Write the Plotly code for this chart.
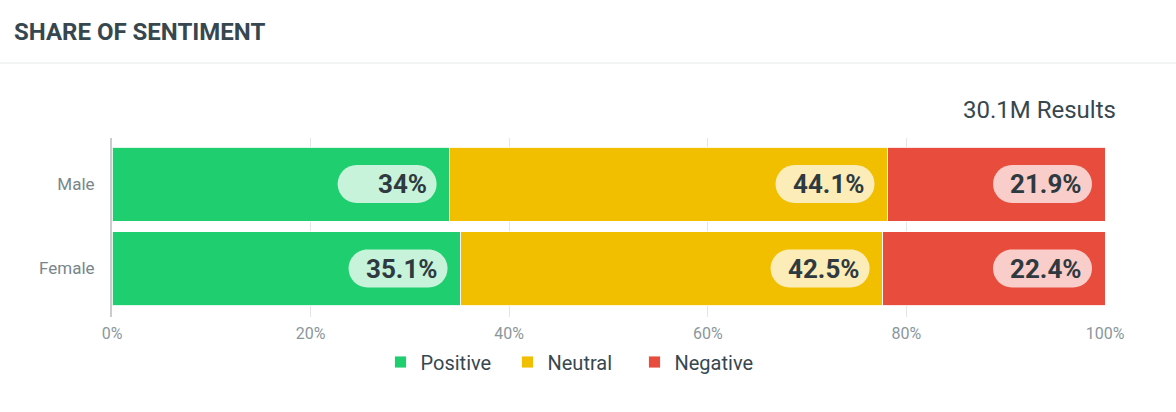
import plotly.graph_objects as go

categories = ["Male", "Female"]
positive = [34.0, 35.1]
neutral = [44.1, 42.5]
negative = [21.9, 22.4]
x_ticks = [0, 20, 40, 60, 80, 100]
x_tick_labels = ["0%", "20%", "40%", "60%", "80%", "100%"]
title_text = "SHARE OF SENTIMENT"
results_text = "30.1M Results"

series = [
    ("Positive", positive, "#1FCE6E", "rgba(255,255,255,0.75)"),
    ("Neutral", neutral, "#F2BF00", "rgba(255,255,255,0.72)"),
    ("Negative", negative, "#E84C3D", "rgba(255,255,255,0.72)"),
]

W, H = 1176, 412
ML, MR, MT, MB = 112, 71, 138, 95
PW, PH = W - ML - MR, H - MT - MB

fig = go.Figure()
for name, vals, color, _ in series:
    fig.add_trace(go.Bar(
        name=name, y=categories, x=vals, orientation="h",
        marker=dict(color=color, line=dict(color="rgba(255,255,255,0.85)", width=1)),
        hoverinfo="skip",
    ))

def pill_path(x0, x1, y0, y1):
    r = (y1 - y0) / 2.0
    k = 0.5523 * r
    cy = (y0 + y1) / 2.0
    p = f"M{x0 + r},{y0} L{x1 - r},{y0} "
    p += f"C{x1 - r + k},{y0} {x1},{cy - k} {x1},{cy} "
    p += f"C{x1},{cy + k} {x1 - r + k},{y1} {x1 - r},{y1} "
    p += f"L{x0 + r},{y1} "
    p += f"C{x0 + r - k},{y1} {x0},{cy + k} {x0},{cy} "
    p += f"C{x0},{cy - k} {x0 + r - k},{y0} {x0 + r},{y0} Z"
    return p

shapes = []
annotations = []
for ci, cat in enumerate(categories):
    cum = 0.0
    for name, vals, color, pill in series:
        cum += vals[ci]
        shapes.append(dict(
            type="path", xref="x", yref="y",
            xsizemode="pixel", ysizemode="pixel",
            xanchor=cum, yanchor=ci,
            path=pill_path(-112, -13, -19, 19),
            fillcolor=pill, line=dict(width=0), layer="above",
        ))
        label = f"{vals[ci]:g}%"
        annotations.append(dict(
            x=cum, y=cat, xref="x", yref="y", text=f"<b>{label}</b>",
            showarrow=False, xanchor="right", yanchor="middle", xshift=-21,
            font=dict(family="Roboto", size=26, color="#2E3A40"),
        ))

# header separator
shapes.append(dict(type="line", xref="paper", yref="paper",
                   x0=-ML / PW, x1=(W - ML) / PW,
                   y0=(H - MB - 63) / PH, y1=(H - MB - 63) / PH,
                   line=dict(color="#E6E8E9", width=1), layer="below"))

annotations.append(dict(
    x=-(ML - 12) / PW, y=(H - MB - 32) / PH,
    xref="paper", yref="paper", xanchor="left", yanchor="middle",
    text=f"<b>{title_text}</b>", showarrow=False,
    font=dict(family="Roboto", size=24, color="#37474F"),
))
annotations.append(dict(
    x=(1118 - ML) / PW, y=(H - MB - 110) / PH,
    xref="paper", yref="paper", xanchor="right", yanchor="middle",
    text=results_text, showarrow=False,
    font=dict(family="Roboto", size=24, color="#37474F"),
))

fig.update_layout(
    width=W, height=H,
    margin=dict(l=ML, r=MR, t=MT, b=MB, pad=0),
    barmode="stack", bargap=0.124,
    paper_bgcolor="white", plot_bgcolor="white",
    shapes=shapes, annotations=annotations,
    showlegend=True,
    legend=dict(orientation="h", traceorder="normal", entrywidth=82, entrywidthmode="pixels",
                x=(571 - ML) / PW, xanchor="center", y=(H - MB - 362) / PH, yanchor="middle",
                font=dict(family="Roboto", size=20, color="#37474F"),
                itemclick=False, itemdoubleclick=False),
    font=dict(family="Roboto"),
)
fig.update_xaxes(range=[0, 100], tickvals=x_ticks, ticktext=x_tick_labels,
                 showgrid=True, gridcolor="#E3E6E7", gridwidth=1, zeroline=False,
                 showline=False, ticks="", ticklabelstandoff=5,
                 tickfont=dict(family="Roboto", size=16, color="#8A979C"), fixedrange=True)
fig.update_yaxes(type="category", categoryorder="array", categoryarray=categories,
                 range=[1.574, -0.545], showgrid=False, zeroline=False,
                 showline=True, linecolor="#C9CDCF", linewidth=2, ticks="",
                 ticklabelstandoff=12,
                 tickfont=dict(family="Roboto", size=17, color="#78868B"), fixedrange=True)

fig.write_html("out.html", config={"displayModeBar": False})
